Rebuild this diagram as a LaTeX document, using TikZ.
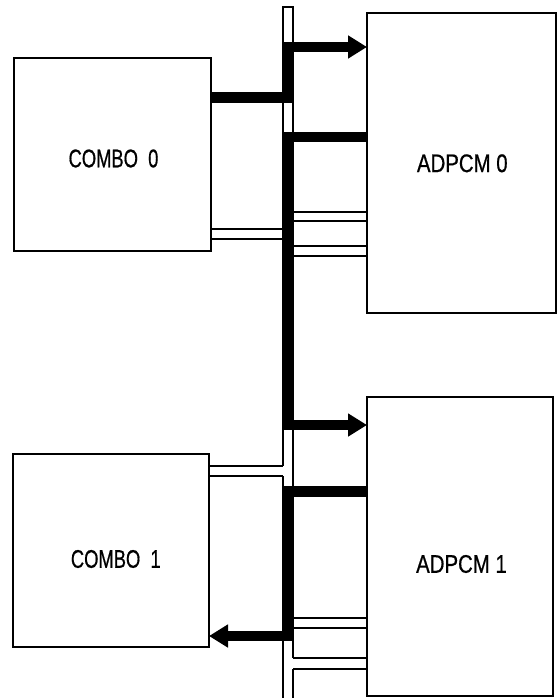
\documentclass[tikz,border=0pt]{standalone}
\usepackage{fontspec}
\newfontfamily\combofont[FakeStretch=0.72,FakeBold=0.6]{Liberation Sans}
\newfontfamily\adpcmfont[FakeStretch=0.8,FakeBold=0.6]{Liberation Sans}
\usetikzlibrary{arrows.meta,calc}
\tikzset{
  block/.style={draw, line width=1.3pt, inner sep=0pt, outer sep=0pt},
  wire/.style={line width=1.2pt},
  heavy/.style={line width=10.5pt, line join=miter, miter limit=10},
  heavyarrow/.style={heavy, -{Triangle[length=19pt,width=22pt]}},
  cfont/.style={font=\combofont\fontsize{25.5}{30}\selectfont, inner sep=0pt},
  afont/.style={font=\adpcmfont\fontsize{25.5}{30}\selectfont, inner sep=0pt}
}
\begin{document}
\begin{tikzpicture}[x=1pt,y=-1pt]
\useasboundingbox (0,0) rectangle (557,698);
% blocks
\node[block, minimum width=197pt, minimum height=193pt] (c0) at (112.5,154.5) {};
\node[block, minimum width=189pt, minimum height=300pt] (a0) at (461.5,163) {};
\node[block, minimum width=196pt, minimum height=193pt] (c1) at (111,550.5) {};
\node[block, minimum width=186pt, minimum height=299pt] (a1) at (460,546.5) {};
\node[cfont] (c0t) at (113.5,158.5) {COMBO\ \ 0};
\node[afont] (a0t) at (462.3,163.3) {ADPCM 0};
\node[cfont] (c1t) at (115.8,559) {COMBO\ \ 1};
\node[afont] (a1t) at (461.5,564) {ADPCM 1};
% bus
\coordinate (busL) at (283,0);
\coordinate (busR) at (293,0);
\coordinate (busC) at (288,0);
\draw[wire] (283,698) -- (283,476) (283,466) -- (283,7) -- (293,7) -- (293,658) (293,669) -- (293,698);
% hollow connectors
\foreach \dy in {171,181}{
  \coordinate (t) at ($(c0.north east)+(0,\dy)$);
  \draw[wire] (t) -- (t -| busL);
}
\foreach \dy in {199,208,233,243}{
  \coordinate (t) at ($(a0.north west)+(0,\dy)$);
  \draw[wire] (t) -- (t -| busR);
}
\foreach \dy in {12,22}{
  \coordinate (t) at ($(c1.north east)+(0,\dy)$);
  \draw[wire] (t) -- (t -| busL);
}
\foreach \dy in {221,231,261,272}{
  \coordinate (t) at ($(a1.north west)+(0,\dy)$);
  \draw[wire] (t) -- (t -| busR);
}
% heavy connectors
\coordinate (p1) at ($(c0.north east)+(0,39.5)$);
\coordinate (q1) at ($(a0.north west)+(0,34)$);
\draw[heavyarrow] (p1) -- (busC |- p1) -- (busC |- q1) -- (q1);
\coordinate (p2) at ($(a0.north west)+(0,124)$);
\coordinate (q2) at ($(a1.north west)+(0,28)$);
\draw[heavyarrow] (p2) -- (busC |- p2) -- (busC |- q2) -- (q2);
\coordinate (p3) at ($(a1.north west)+(0,94.5)$);
\coordinate (q3) at ($(c1.north east)+(0,182)$);
\draw[heavyarrow] (p3) -- (busC |- p3) -- (busC |- q3) -- (q3);
\end{tikzpicture}
\end{document}
